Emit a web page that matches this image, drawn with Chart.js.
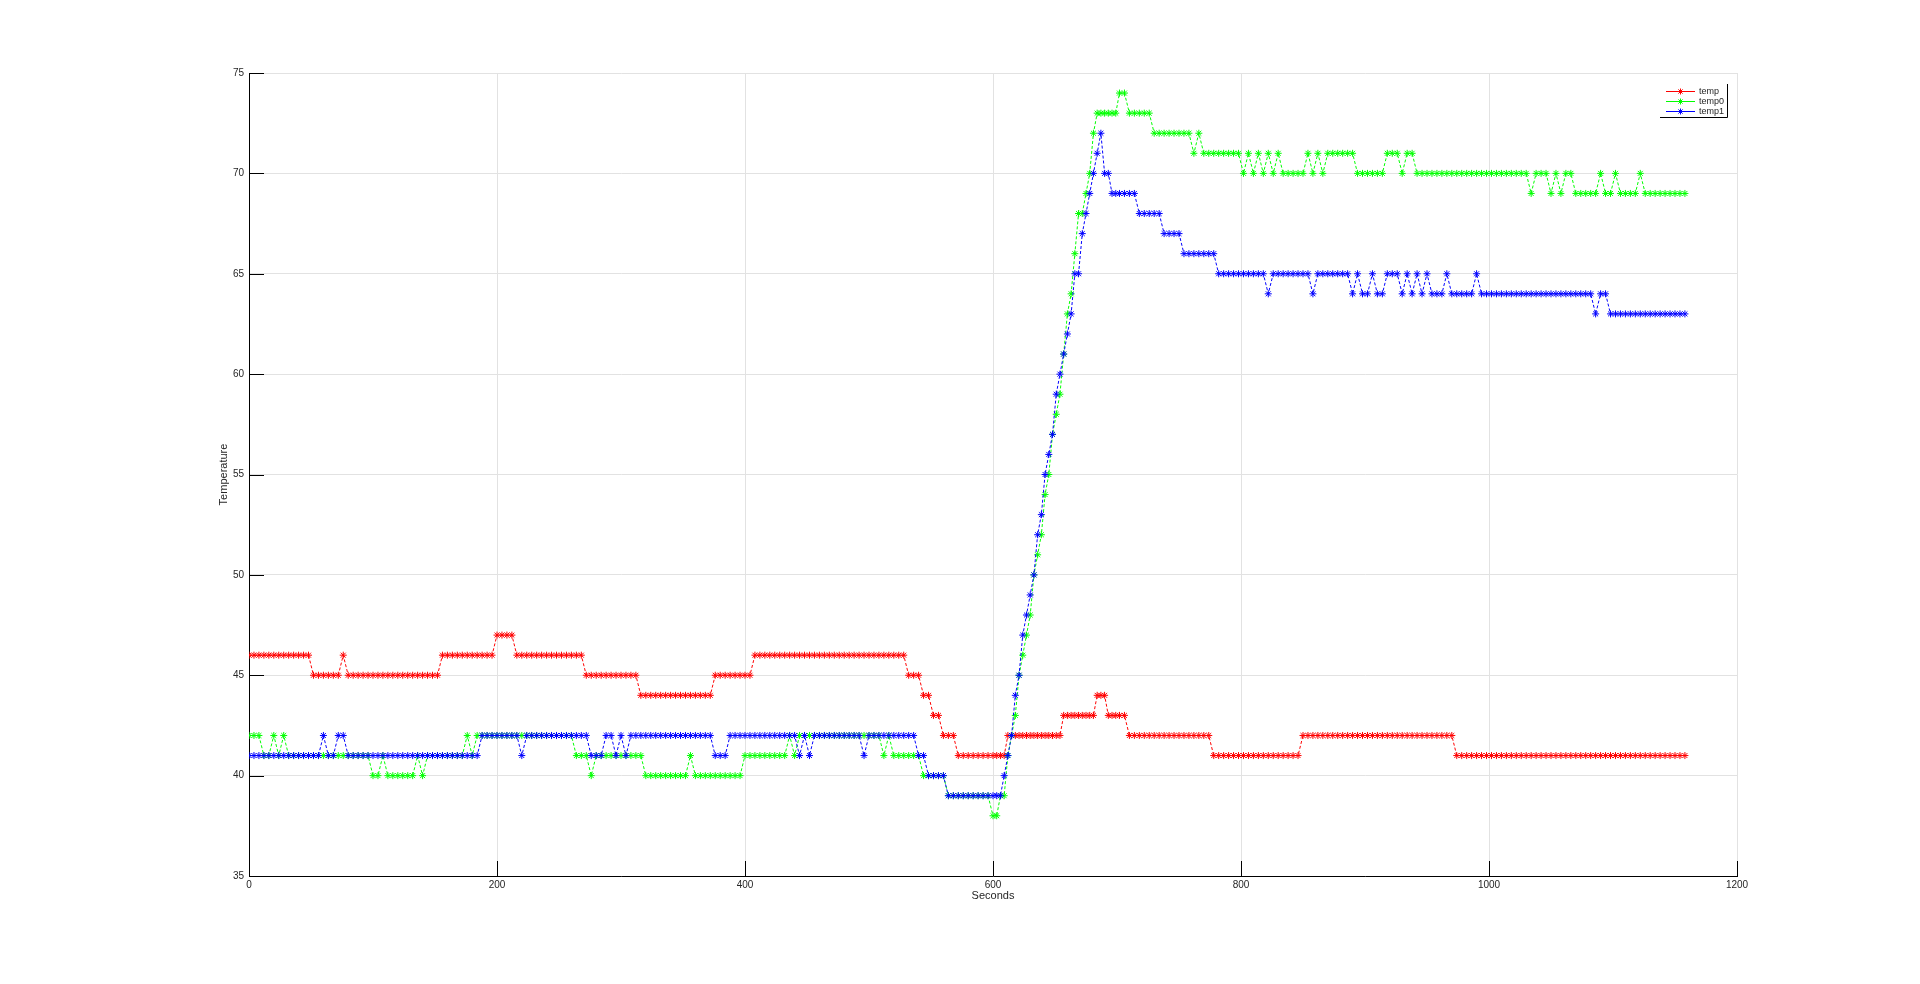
<!DOCTYPE html>
<html>
<head>
<meta charset="utf-8">
<title>Temperature</title>
<script src="https://cdn.jsdelivr.net/npm/chart.js@4/dist/chart.umd.min.js"></script>
<style>
  html, body { margin: 0; padding: 0; background: #fff; }
  canvas { display: block; }
</style>
</head>
<body>
<canvas id="chart" width="1920" height="984"></canvas>
<script>
// sample times (s)
const seconds = [
  0,4,8,12,16,20,24,28,32,36,
  40,44,48,52,56,60,64,68,72,76,
  80,84,88,92,96,100,104,108,112,116,
  120,124,128,132,136,140,144,148,152,156,
  160,164,168,172,176,180,184,188,192,196,
  200,204,208,212,216,220,224,228,232,236,
  240,244,248,252,256,260,264,268,272,276,
  280,284,288,292,296,300,304,308,312,316,
  320,324,328,332,336,340,344,348,352,356,
  360,364,368,372,376,380,384,388,392,396,
  400,404,408,412,416,420,424,428,432,436,
  440,444,448,452,456,460,464,468,472,476,
  480,484,488,492,496,500,504,508,512,516,
  520,524,528,532,536,540,544,548,552,556,
  560,564,568,572,576,580,584,588,592,596,
  600,
  603,606,609,612,615,618,621,624,627,630,
  633,636,639,642,645,648,651,654,657,660,
  663,666,669,672,675,678,681,684,687,690,
  693,696,699,702,
  706,710,714,718,722,726,730,734,738,742,
  746,750,754,758,762,766,770,774,778,782,
  786,790,794,798,802,806,810,814,818,822,
  826,830,834,838,842,846,850,854,858,862,
  866,870,874,878,882,886,890,894,898,902,
  906,910,914,918,922,926,930,934,938,942,
  946,950,954,958,962,966,970,974,978,982,
  986,990,994,998,1002,1006,1010,1014,1018,1022,
  1026,1030,1034,1038,1042,1046,1050,1054,1058,1062,
  1066,1070,1074,1078,1082,1086,1090,1094,1098,1102,
  1106,1110,1114,1118,1122,1126,1130,1134,1138,1142,
  1146,1150,1154,1158
];

const temp = [
  46,46,46,46,46,46,46,46,46,46,
  46,46,46,45,45,45,45,45,45,46,
  45,45,45,45,45,45,45,45,45,45,
  45,45,45,45,45,45,45,45,45,46,
  46,46,46,46,46,46,46,46,46,46,
  47,47,47,47,46,46,46,46,46,46,
  46,46,46,46,46,46,46,46,45,45,
  45,45,45,45,45,45,45,45,45,44,
  44,44,44,44,44,44,44,44,44,44,
  44,44,44,44,45,45,45,45,45,45,
  45,45,46,46,46,46,46,46,46,46,
  46,46,46,46,46,46,46,46,46,46,
  46,46,46,46,46,46,46,46,46,46,
  46,46,46,45,45,45,44,44,43,43,
  42,42,42,41,41,41,41,41,41,41,
  41,
  41,41,41,42,42,42,42,42,42,42,
  42,42,42,42,42,42,42,42,43,43,
  43,43,43,43,43,43,43,44,44,44,
  43,43,43,43,
  43,42,42,42,42,42,42,42,42,42,
  42,42,42,42,42,42,42,42,41,41,
  41,41,41,41,41,41,41,41,41,41,
  41,41,41,41,41,41,42,42,42,42,
  42,42,42,42,42,42,42,42,42,42,
  42,42,42,42,42,42,42,42,42,42,
  42,42,42,42,42,42,42,41,41,41,
  41,41,41,41,41,41,41,41,41,41,
  41,41,41,41,41,41,41,41,41,41,
  41,41,41,41,41,41,41,41,41,41,
  41,41,41,41,41,41,41,41,41,41,
  41,41,41,41
];

const temp0 = [
  42,42,42,41,41,42,41,42,41,41,
  41,41,41,41,41,41,41,41,41,41,
  41,41,41,41,41,40,40,41,40,40,
  40,40,40,40,41,40,41,41,41,41,
  41,41,41,41,42,41,42,42,42,42,
  42,42,42,42,42,42,42,42,42,42,
  42,42,42,42,42,42,41,41,41,40,
  41,41,41,41,41,41,41,41,41,41,
  40,40,40,40,40,40,40,40,40,41,
  40,40,40,40,40,40,40,40,40,40,
  41,41,41,41,41,41,41,41,41,42,
  41,42,42,42,42,42,42,42,42,42,
  42,42,42,42,42,42,42,42,41,42,
  41,41,41,41,41,41,40,40,40,40,
  40,39,39,39,39,39,39,39,39,39,
  38,
  38,39,39,41,42,43,45,46,47,48,
  50,51,52,54,55,57,58,59,61,63,
  64,66,68,68,69,70,72,73,73,73,
  73,73,73,74,
  74,73,73,73,73,73,72,72,72,72,
  72,72,72,72,71,72,71,71,71,71,
  71,71,71,71,70,71,70,71,70,71,
  70,71,70,70,70,70,70,71,70,71,
  70,71,71,71,71,71,71,70,70,70,
  70,70,70,71,71,71,70,71,71,70,
  70,70,70,70,70,70,70,70,70,70,
  70,70,70,70,70,70,70,70,70,70,
  70,70,69,70,70,70,69,70,69,70,
  70,69,69,69,69,69,70,69,69,70,
  69,69,69,69,70,69,69,69,69,69,
  69,69,69,69
];

const temp1 = [
  41,41,41,41,41,41,41,41,41,41,
  41,41,41,41,41,42,41,41,42,42,
  41,41,41,41,41,41,41,41,41,41,
  41,41,41,41,41,41,41,41,41,41,
  41,41,41,41,41,41,41,42,42,42,
  42,42,42,42,42,41,42,42,42,42,
  42,42,42,42,42,42,42,42,42,41,
  41,41,42,42,41,42,41,42,42,42,
  42,42,42,42,42,42,42,42,42,42,
  42,42,42,42,41,41,41,42,42,42,
  42,42,42,42,42,42,42,42,42,42,
  42,41,42,41,42,42,42,42,42,42,
  42,42,42,42,41,42,42,42,42,42,
  42,42,42,42,42,41,41,40,40,40,
  40,39,39,39,39,39,39,39,39,39,
  39,
  39,39,40,41,42,44,45,47,48,49,
  50,52,53,55,56,57,59,60,61,62,
  63,65,65,67,68,69,70,71,72,70,
  70,69,69,69,
  69,69,69,68,68,68,68,68,67,67,
  67,67,66,66,66,66,66,66,66,65,
  65,65,65,65,65,65,65,65,65,64,
  65,65,65,65,65,65,65,65,64,65,
  65,65,65,65,65,65,64,65,64,64,
  65,64,64,65,65,65,64,65,64,65,
  64,65,64,64,64,65,64,64,64,64,
  64,65,64,64,64,64,64,64,64,64,
  64,64,64,64,64,64,64,64,64,64,
  64,64,64,64,64,63,64,64,63,63,
  63,63,63,63,63,63,63,63,63,63,
  63,63,63,63
];

const seriesNames = ['temp', 'temp0', 'temp1'];
const seriesColors = ['#ff0000', '#00ff00', '#0000ff'];
const xTicks = [0, 200, 400, 600, 800, 1000, 1200];
const yTicks = [35, 40, 45, 50, 55, 60, 65, 70, 75];

const FONT = '"Liberation Sans", Arial, Helvetica, sans-serif';
const TEXT = '#262626';

function points(vals) {
  return seconds.map((s, i) => ({ x: s, y: vals[i] }));
}

function drawStar(ctx, x, y, r) {
  const d = r * Math.SQRT1_2;
  ctx.beginPath();
  ctx.moveTo(x - r, y); ctx.lineTo(x + r, y);
  ctx.moveTo(x, y - r); ctx.lineTo(x, y + r);
  ctx.moveTo(x - d, y - d); ctx.lineTo(x + d, y + d);
  ctx.moveTo(x - d, y + d); ctx.lineTo(x + d, y - d);
  ctx.stroke();
}

// ticks pointing into the plot, like the original
const innerTicks = {
  id: 'innerTicks',
  afterDatasetsDraw(chart) {
    const { ctx, chartArea: a, scales: { x, y } } = chart;
    const len = 15;
    ctx.save();
    ctx.strokeStyle = '#000';
    ctx.lineWidth = 1;
    ctx.beginPath();
    yTicks.forEach(v => {
      const py = Math.round(y.getPixelForValue(v)) + 0.5;
      ctx.moveTo(a.left, py); ctx.lineTo(a.left + len, py);
    });
    xTicks.forEach(v => {
      const px = Math.round(x.getPixelForValue(v)) + 0.5;
      ctx.moveTo(px, a.bottom); ctx.lineTo(px, a.bottom - len);
    });
    ctx.stroke();
    ctx.restore();
  }
};

// small boxed legend in the top right corner of the plot
const boxLegend = {
  id: 'boxLegend',
  afterDraw(chart) {
    const { ctx, chartArea: a } = chart;
    const w = 67, h = 33;
    const bx = a.right - 77, by = a.top + 11;
    ctx.save();
    ctx.fillStyle = '#fff';
    ctx.fillRect(bx, by, w, h);
    ctx.strokeStyle = '#000';
    ctx.lineWidth = 1;
    ctx.beginPath();
    ctx.moveTo(bx + w + 0.5, by);
    ctx.lineTo(bx + w + 0.5, by + h + 0.5);
    ctx.lineTo(bx, by + h + 0.5);
    ctx.stroke();
    ctx.font = '9px ' + FONT;
    ctx.textBaseline = 'middle';
    ctx.textAlign = 'left';
    seriesNames.forEach((name, i) => {
      const ly = by + 7 + i * 10 + 0.5;
      ctx.strokeStyle = seriesColors[i];
      ctx.beginPath();
      ctx.moveTo(bx + 6, ly); ctx.lineTo(bx + 35, ly);
      ctx.stroke();
      drawStar(ctx, bx + 20.5, ly, 3);
      ctx.fillStyle = TEXT;
      ctx.fillText(name, bx + 39, ly);
    });
    ctx.restore();
  }
};

const datasets = [temp, temp0, temp1].map((vals, i) => ({
  label: seriesNames[i],
  data: points(vals),
  borderColor: seriesColors[i],
  backgroundColor: seriesColors[i],
  borderWidth: 1,
  borderDash: [3, 2],
  pointStyle: 'star',
  pointRadius: 3.5,
  pointBorderWidth: 1,
  pointBorderColor: seriesColors[i],
  pointHoverRadius: 3.5,
  tension: 0,
  fill: false,
  order: 3 - i
}));

new Chart(document.getElementById('chart'), {
  type: 'line',
  data: { datasets },
  options: {
    responsive: false,
    animation: false,
    devicePixelRatio: 1,
    layout: { padding: { left: 214, right: 183, top: 73, bottom: 81 } },
    plugins: {
      legend: { display: false },
      tooltip: { enabled: false }
    },
    scales: {
      x: {
        type: 'linear',
        min: 0,
        max: 1200,
        afterFit: s => { s.height = 27; },
        afterBuildTicks: s => { s.ticks = xTicks.map(v => ({ value: v })); },
        ticks: {
          padding: 3, color: TEXT, font: { family: FONT, size: 10 },
          callback: v => String(v)
        },
        grid: { color: '#e2e2e2', drawTicks: false },
        border: { color: '#000', width: 1 },
        title: {
          display: true, text: 'Seconds', color: TEXT,
          font: { family: FONT, size: 11 }, padding: { top: 0, bottom: 0 }
        }
      },
      y: {
        min: 35,
        max: 75,
        afterFit: s => { s.width = 35; },
        afterBuildTicks: s => { s.ticks = yTicks.map(v => ({ value: v })); },
        ticks: {
          padding: 5, color: TEXT, font: { family: FONT, size: 10 },
          callback: v => String(v)
        },
        grid: { color: '#e2e2e2', drawTicks: false },
        border: { color: '#000', width: 1 },
        title: {
          display: true, text: 'Temperature', color: TEXT,
          font: { family: FONT, size: 11 }, padding: { top: 3, bottom: 0 }
        }
      }
    }
  },
  plugins: [innerTicks, boxLegend]
});
</script>
</body>
</html>
